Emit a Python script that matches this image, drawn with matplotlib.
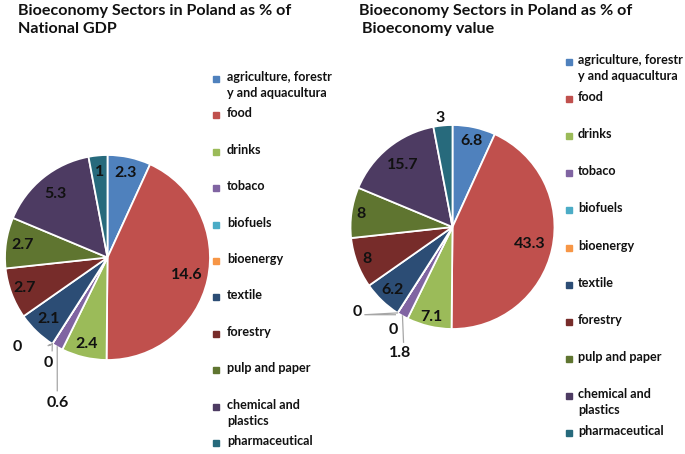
import numpy as np
import matplotlib
matplotlib.use("Agg")
import matplotlib.pyplot as plt

plt.rcParams['font.family'] = ['Lato', 'DejaVu Sans']

sectors = ["agriculture, forestr\ny and aquacultura", "food", "drinks", "tobaco",
           "biofuels", "bioenergy", "textile", "forestry", "pulp and paper",
           "chemical and\nplastics", "pharmaceutical"]
gdp_values = [2.3, 14.6, 2.4, 0.6, 0, 0, 2.1, 2.7, 2.7, 5.3, 1]
bio_values = [6.8, 43.3, 7.1, 1.8, 0, 0, 6.2, 8, 8, 15.7, 3]
gdp_labels = ["2.3", "14.6", "2.4", "0.6", "0", "0", "2.1", "2.7", "2.7", "5.3", "1"]
bio_labels = ["6.8", "43.3", "7.1", "1.8", "0", "0", "6.2", "8", "8", "15.7", "3"]
colors = ["#4F81BD", "#C0504D", "#9BBB59", "#8064A2", "#4BACC6", "#F79646",
          "#2C4D75", "#772C2A", "#5F7530", "#4D3B62", "#276A7C"]

W, H = 685, 454
fig = plt.figure(figsize=(W / 100, H / 100), dpi=100)
fig.patch.set_facecolor("white")


def px(x, y):
    return x / W, 1 - y / H


def pie_axes(cx, cy, r):
    ax = fig.add_axes([(cx - r) / W, 1 - (cy + r) / H, 2 * r / W, 2 * r / H])
    ax.set_xlim(-1, 1)
    ax.set_ylim(-1, 1)
    ax.axis("off")
    return ax


def draw_pie(ax, values, labels, label_r, outside):
    wedges, _ = ax.pie(values, colors=colors, startangle=90, counterclock=False,
                       radius=1.0, wedgeprops=dict(edgecolor="white", linewidth=1.3))
    ax.set_xlim(-1, 1)
    ax.set_ylim(-1, 1)
    for i, w in enumerate(wedges):
        mid = np.deg2rad((w.theta1 + w.theta2) / 2)
        ex, ey = np.cos(mid), np.sin(mid)
        if i in outside:
            tx, ty, line = outside[i]
            if line is not None:
                ax.plot([ex] + [p[0] for p in line], [ey] + [p[1] for p in line],
                        color="#A6A6A6", lw=0.9, clip_on=False, zorder=1)
            ax.text(tx, ty, labels[i], ha="center", va="center", fontsize=11.5,
                    fontweight="bold", color="#111111", clip_on=False)
        else:
            rr = label_r[i]
            ax.text(rr * ex, rr * ey, labels[i], ha="center", va="center",
                    fontsize=11.5, fontweight="bold", color="#111111")


# left pie
ax1 = pie_axes(107.5, 257.5, 102.5)
left_r = [0.84, 0.79, 0.87, 0, 0, 0, 0.83, 0.86, 0.84, 0.80, 0.84]
left_out = {
    3: (-0.49, -1.42, [(-0.49, -1.30)]),
    4: (-0.88, -0.87, [(-0.58, -0.86), (-0.55, -0.85)]),
    5: (-0.58, -1.03, [(-0.54, -0.91)]),
}
draw_pie(ax1, gdp_values, gdp_labels, left_r, left_out)

# right pie
ax2 = pie_axes(452.5, 227, 102)
right_r = [0.86, 0.78, 0.91, 0, 0, 0, 0.85, 0.90, 0.91, 0.78, 0]
right_out = {
    3: (-0.51, -1.24, [(-0.48, -1.13)]),
    4: (-0.93, -0.83, [(-0.86, -0.86), (-0.56, -0.86)]),
    5: (-0.58, -1.01, None),
    10: (-0.12, 1.07, None),
}
draw_pie(ax2, bio_values, bio_labels, right_r, right_out)

# titles
title_kw = dict(fontsize=11.6, fontweight="bold", color="#111111", ha="left", va="center")
fig.text(*px(18, 11), "Bioeconomy Sectors in Poland as % of", **title_kw)
fig.text(*px(18, 29), "National GDP", **title_kw)
fig.text(*px(359, 11), "Bioeconomy Sectors in Poland as % of", **title_kw)
fig.text(*px(362, 29), "Bioeconomy value", **title_kw)


# legends
def draw_legend(x_mark, x_text, y0, step):
    for i, (name, c) in enumerate(zip(sectors, colors)):
        y = y0 + i * step
        fig.patches.append(plt.Rectangle(px(x_mark - 3, y + 3), 6 / W, 6 / H,
                                         transform=fig.transFigure, color=c))
        fig.text(*px(x_text, y - 8), name, fontsize=9.1, fontweight="bold",
                 color="#111111", ha="left", va="top", linespacing=1.4)


draw_legend(216, 227, 79, 36.4)
draw_legend(569, 578, 62, 37.1)

fig.savefig("out.png", dpi=100, facecolor="white")
